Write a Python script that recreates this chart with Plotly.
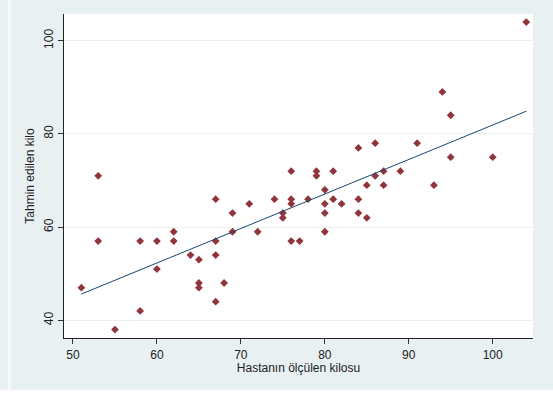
import numpy as np
import plotly.graph_objects as go

# Measured weight (kg) and estimated weight (kg) per patient
measured_kg = [51, 53, 53, 55, 58, 58, 60, 60, 62, 62, 64, 65, 65, 65, 67, 67, 67, 67,
               68, 69, 69, 71, 72, 74, 75, 75, 76, 76, 76, 76, 77, 78, 79, 79, 80, 80,
               80, 80, 81, 81, 82, 84, 84, 84, 85, 85, 86, 86, 87, 87, 89, 91, 93, 94,
               95, 95, 100, 104]
estimated_kg = [47, 71, 57, 38, 57, 42, 57, 51, 59, 57, 54, 53, 48, 47, 66, 57, 54, 44,
                48, 63, 59, 65, 59, 66, 63, 62, 72, 66, 65, 57, 57, 66, 72, 71, 68, 65,
                63, 59, 72, 66, 65, 77, 66, 63, 69, 62, 78, 71, 72, 69, 72, 78, 69, 89,
                84, 75, 75, 104]

x_ticks = [50, 60, 70, 80, 90, 100]
y_ticks = [40, 60, 80, 100]

x_title = "Hastanın ölçülen kilosu"
y_title = "Tahmin edilen kilo"

# Least-squares fit line over the observed range
slope, intercept = np.polyfit(measured_kg, estimated_kg, 1)
fit_x = [min(measured_kg), max(measured_kg)]
fit_y = [intercept + slope * v for v in fit_x]

BG = "#e8f0f2"
FONT = "Liberation Sans, Arial, sans-serif"

fig = go.Figure()
fig.add_trace(go.Scatter(
    x=measured_kg, y=estimated_kg, mode="markers",
    marker=dict(symbol="diamond", size=6, color="#90353b", line=dict(width=0)),
    showlegend=False, hoverinfo="skip"))
fig.add_trace(go.Scatter(
    x=fit_x, y=fit_y, mode="lines",
    line=dict(color="#1a476f", width=1),
    showlegend=False, hoverinfo="skip"))

fig.update_layout(
    width=553, height=394,
    margin=dict(l=64, r=20, t=14, b=56),
    paper_bgcolor=BG, plot_bgcolor="white",
    font=dict(family=FONT, size=12, color="#222222"),
    xaxis=dict(
        range=[48.93, 104.8], tickvals=x_ticks, ticks="outside", ticklen=5,
        tickcolor="#333333", showgrid=False, zeroline=False,
        showline=True, linecolor="#222222", linewidth=1.2,
        tickfont=dict(size=12, color="#222222"),
        title=dict(text=x_title, font=dict(size=12), standoff=2)),
    yaxis=dict(
        range=[36.2, 105.73], tickvals=y_ticks, ticks="outside", ticklen=5,
        tickcolor="#333333", tickangle=-90,
        showgrid=True, gridcolor="#e8f0f2", gridwidth=1, zeroline=False,
        showline=True, linecolor="#222222", linewidth=1.2,
        tickfont=dict(size=12, color="#222222"),
        title=dict(text=y_title, font=dict(size=12), standoff=4)),
    shapes=[
        # thin light strips along the left and bottom edges of the page
        dict(type="rect", xref="paper", yref="paper",
             x0=-56 / 469, x1=-53 / 469, y0=-52 / 324, y1=1 + 14 / 324,
             fillcolor="#f6f9fa", line=dict(width=0), layer="below"),
        dict(type="rect", xref="paper", yref="paper",
             x0=-64 / 469, x1=1 + 20 / 469, y0=-56 / 324, y1=-52 / 324,
             fillcolor="white", line=dict(width=0), layer="below"),
    ],
)

fig.write_html("out.html")
